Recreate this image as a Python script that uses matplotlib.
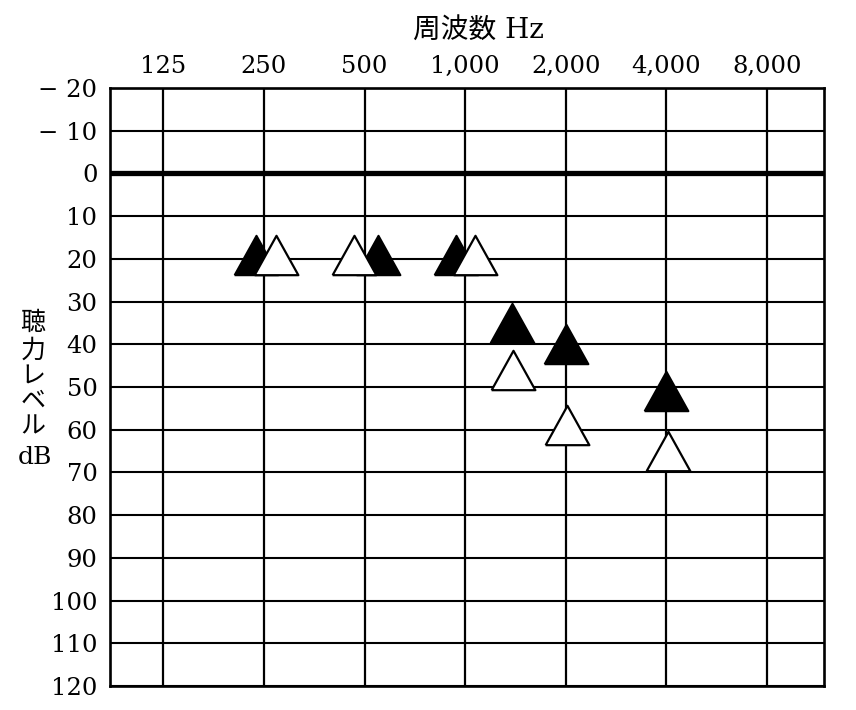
import numpy as np
import matplotlib
matplotlib.use("Agg")
from matplotlib import pyplot as plt
from matplotlib.transforms import offset_copy

# audiogram data
freq_ticks = [125, 250, 500, 1000, 2000, 4000, 8000]
freq_labels = ["125", "250", "500", "1,000", "2,000", "4,000", "8,000"]
db_ticks = list(range(-20, 121, 10))
db_labels = ["\u2212 20", "\u2212 10"] + [str(v) for v in range(0, 121, 10)]

test_freqs = [250, 500, 1000, 1500, 2000, 4000]
filled_db = [19, 19, 19, 35, 40, 51]   # black triangles
open_db = [19, 19, 19, 46, 59, 65]     # white triangles

# small sideways shifts (pixels) so overlapping symbols stay visible
filled_shift = [-8, 13, -9, -12, 0, 0]
open_shift = [12, -11, 10, -11, 1, 2]

serif = ["DejaVu Serif", "Noto Sans CJK JP"]

fig = plt.figure(figsize=(8.56, 7.10), dpi=100)
ax = fig.add_axes([110 / 856, 24 / 710, 714 / 856, 598 / 710])

ax.set_xscale("log")
ax.set_xlim(86.6, 11850)
ax.set_ylim(120, -20)

# grid
for f in freq_ticks:
    ax.axvline(f, color="black", lw=1.6, zorder=1)
for d in range(-20, 121, 10):
    ax.axhline(d, color="black", lw=3.8 if d == 0 else 1.5, zorder=1)

# triangle marker a bit wider than tall
tri = [(-1, -0.9), (1, -0.9), (0, 0.9), (-1, -0.9)]

for f, d, dx in zip(test_freqs, filled_db, filled_shift):
    tr = offset_copy(ax.transData, fig=fig, x=dx, y=0, units="dots")
    ax.plot(f, d, marker=tri, ms=31.5, mfc="black", mec="black", mew=1.5,
            transform=tr, zorder=3)
for f, d, dx in zip(test_freqs, open_db, open_shift):
    tr = offset_copy(ax.transData, fig=fig, x=dx, y=0, units="dots")
    ax.plot(f, d, marker=tri, ms=31.5, mfc="white", mec="black", mew=1.6,
            transform=tr, zorder=4)

ax.xaxis.tick_top()
ax.set_xticks(freq_ticks)
ax.set_xticklabels(freq_labels, fontfamily="DejaVu Serif", fontsize=17.5)
ax.xaxis.set_minor_locator(matplotlib.ticker.NullLocator())
ax.set_yticks(db_ticks)
ax.set_yticklabels(db_labels, fontfamily="DejaVu Serif", fontsize=17.5)
ax.tick_params(axis="x", length=0, pad=7)
ax.tick_params(axis="y", length=0, pad=9)

for s in ax.spines.values():
    s.set_linewidth(1.9)

fig.text(478 / 856, 1 - 30 / 710, "周波数 Hz", family=serif, fontsize=20,
         ha="center", va="center")

ylab = ["聴", "力", "レ", "ベ", "ル"]
ylab_y = [323, 351, 377, 401, 427]
for ch, yy in zip(ylab, ylab_y):
    fig.text(33 / 856, 1 - yy / 710, ch, family=serif, fontsize=18,
             ha="center", va="center")
fig.text(35 / 856, 1 - 458 / 710, "dB", family="DejaVu Serif", fontsize=18,
         ha="center", va="center")

fig.savefig("out.png", dpi=100, facecolor="white")
